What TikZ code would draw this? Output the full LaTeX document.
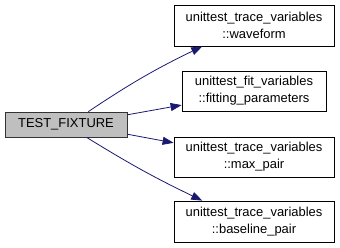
\documentclass[tikz,border=0pt]{standalone}
\usepackage{fontspec}
\setmainfont{Liberation Sans}
\usepackage{tikz}
\usetikzlibrary{arrows.meta}
\usetikzlibrary{positioning}
\definecolor{mnavy}{RGB}{25, 25, 112}
\definecolor{mgray}{RGB}{191, 191, 191}
\tikzset{fn/.style = {draw=black, line width=0.8bp, fill=white,
                      inner sep=0pt, align=center,
                      font=\fontsize{13}{17}\selectfont}}
\tikzset{root/.style = {fn, fill=mgray, draw=black!80}}
\tikzset{call/.style = {mnavy, line width=0.8bp,
                        -{Triangle[length=11bp, width=8bp]}}}

\begin{document}
\begin{tikzpicture}[x=1bp, y=-1bp]
    \useasboundingbox (0, 0) rectangle (340, 248);

    \node [root, minimum width=122bp, minimum height=25bp] (fixture) at (66, 124.5) {TEST\_FIXTURE};

    \node [fn, minimum width=160bp, minimum height=41bp] (waveform) at (254, 25.5)
        {unittest\_trace\_variables\\::waveform};
    \node [fn, minimum width=144bp, minimum height=40bp] (fitting) at (254, 91)
        {unittest\_fit\_variables\\::fitting\_parameters};
    \node [fn, minimum width=160bp, minimum height=40bp] (maxpair) at (254, 157)
        {unittest\_trace\_variables\\::max\_pair};
    \node [fn, minimum width=160bp, minimum height=41bp] (baseline) at (254, 221.5)
        {unittest\_trace\_variables\\::baseline\_pair};

    \draw [call] (fixture.30) to [bend left=4] (waveform.202);
    \draw [call] (fixture.9) -- (fitting.191);
    \draw [call] (fixture.-9) -- (maxpair.170);
    \draw [call] (fixture.-32) to [bend right=3] (baseline.158);
\end{tikzpicture}
\end{document}
